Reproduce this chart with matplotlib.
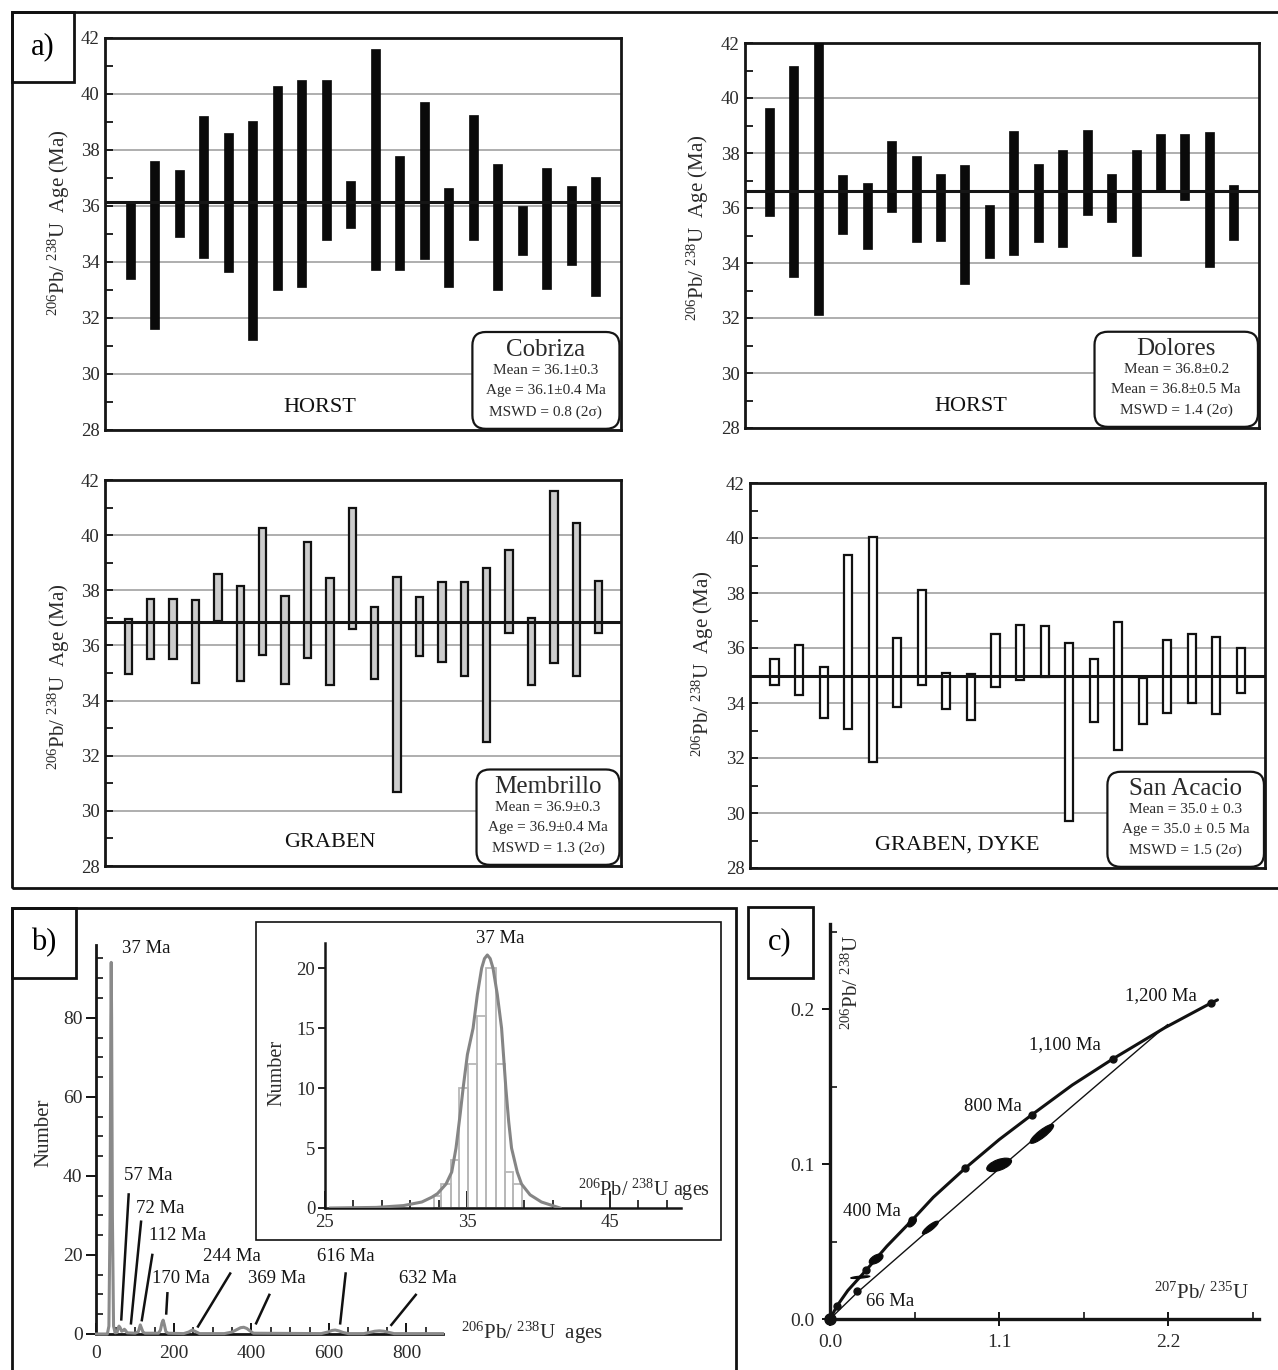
import numpy as np
import matplotlib
matplotlib.use("Agg")
import matplotlib.pyplot as plt
from matplotlib.patches import Rectangle, FancyBboxPatch, Ellipse
from matplotlib.transforms import Affine2D
from matplotlib.ticker import FixedLocator, MultipleLocator

# ---------------------------------------------------------------- data
# a) 206Pb/238U ages (Ma): bottom and top of each error bar
cob_low = [33.4, 31.6, 34.9, 34.15, 33.65, 31.2, 33.0, 33.1, 34.8, 35.2,
           33.7, 33.7, 34.1, 33.1, 34.8, 33.0, 34.25, 33.05, 33.9, 32.8]
cob_high = [36.1, 37.6, 37.3, 39.2, 38.6, 39.05, 40.3, 40.5, 40.5, 36.9,
            41.6, 37.8, 39.7, 36.65, 39.25, 37.5, 36.0, 37.35, 36.7, 37.05]
cob_mean = 36.15

dol_low = [35.7, 33.5, 32.1, 35.05, 34.5, 35.85, 34.75, 34.8, 33.25, 34.2,
           34.3, 34.75, 34.6, 35.75, 35.5, 34.25, 36.65, 36.3, 33.85, 34.85]
dol_high = [39.65, 41.15, 42.05, 37.2, 36.9, 38.45, 37.9, 37.25, 37.55, 36.1,
            38.8, 37.6, 38.1, 38.85, 37.25, 38.1, 38.7, 38.7, 38.75, 36.85]
dol_mean = 36.62

mem_low = [34.95, 35.5, 35.5, 34.65, 36.9, 34.7, 35.65, 34.6, 35.55, 34.55, 36.6,
           34.8, 30.7, 35.6, 35.4, 34.9, 32.5, 36.45, 34.55, 35.35, 34.9, 36.45]
mem_high = [36.95, 37.7, 37.7, 37.65, 38.6, 38.15, 40.25, 37.8, 39.75, 38.45, 41.0,
            37.4, 38.5, 37.75, 38.3, 38.3, 38.8, 39.45, 37.0, 41.6, 40.45, 38.35]
mem_mean = 36.84

san_low = [34.65, 34.3, 33.45, 33.05, 31.85, 33.85, 34.65, 33.8, 33.4, 34.6,
           34.85, 34.95, 29.7, 33.3, 32.3, 33.25, 33.65, 34.0, 33.6, 34.35]
san_high = [35.6, 36.1, 35.3, 39.4, 40.05, 36.35, 38.1, 35.1, 35.05, 36.5,
            36.85, 36.8, 36.2, 35.6, 36.95, 34.9, 36.3, 36.5, 36.4, 36.0]
san_mean = 35.0

cob_text = ["Cobriza", "Mean = 36.1\u00b10.3", "Age = 36.1\u00b10.4 Ma", "MSWD = 0.8 (2\u03c3)"]
dol_text = ["Dolores", "Mean = 36.8\u00b10.2", "Mean = 36.8\u00b10.5 Ma", "MSWD = 1.4 (2\u03c3)"]
mem_text = ["Membrillo", "Mean = 36.9\u00b10.3", "Age = 36.9\u00b10.4 Ma", "MSWD = 1.3 (2\u03c3)"]
san_text = ["San Acacio", "Mean = 35.0 \u00b1 0.3", "Age = 35.0 \u00b1 0.5 Ma", "MSWD = 1.5 (2\u03c3)"]

# b) probability curve of all ages
b_age = [0, 28, 32, 35, 37, 38, 39, 41, 44, 48,
         53, 56, 58, 61, 65, 69, 72, 75, 79, 100,
         108, 111, 113, 116, 120, 125, 160, 165, 169, 172,
         175, 179, 185, 225, 238, 247, 256, 266, 330, 350,
         362, 372, 380, 388, 396, 405, 580, 597, 608, 616,
         625, 636, 650, 690, 705, 718, 730, 742, 755, 768, 893]
b_num = [0, 0, 2, 30, 80, 94, 80, 30, 2, 0.3,
         0.4, 1.5, 2.0, 1.6, 0.7, 0.9, 1.2, 0.9, 0.3, 0.2,
         0.6, 1.6, 2.3, 1.5, 0.5, 0.2, 0.2, 1.0, 2.8, 3.5,
         2.4, 0.6, 0.2, 0.1, 0.5, 1.0, 0.6, 0.1, 0.1, 0.5,
         1.1, 1.6, 1.7, 1.4, 0.8, 0.2, 0.1, 0.5, 0.9, 1.0,
         0.8, 0.4, 0.1, 0.1, 0.4, 0.7, 0.8, 0.7, 0.4, 0.1, 0.1]
b_labels = ["37 Ma", "57 Ma", "72 Ma", "112 Ma", "170 Ma", "244 Ma", "369 Ma", "616 Ma", "632 Ma"]
b_lab_x = [67, 71, 103, 135, 144, 274, 392, 570, 780]
b_lab_y = [97.6, 40.0, 31.8, 24.8, 14.1, 19.6, 14.1, 19.6, 14.1]
b_line_x0 = [None, 83, 115, 144, 183, 345, 446, 643, 824]
b_line_y0 = [None, 35.3, 28.4, 20.0, 10.3, 15.3, 9.9, 15.3, 9.9]
b_line_x1 = [None, 64, 89, 117, 180, 262, 412, 629, 761]
b_line_y1 = [None, 3.7, 2.7, 3.5, 5.2, 1.9, 2.7, 2.7, 2.3]

# b) inset: histogram and curve around 37 Ma
in_edges = [32.64, 33.18, 33.82, 34.40, 35.05, 35.69, 36.33, 36.98, 37.62, 38.21, 38.85]
in_counts = [1, 2, 4, 10, 12, 16, 20, 12, 3, 2]
in_age = [25.4, 28.6, 30.5, 31.8, 32.5, 32.9, 33.5, 33.9, 34.2, 34.5, 34.7, 35.0, 35.4,
          35.7, 36.0, 36.2, 36.4, 36.6, 36.8, 37.1, 37.4, 37.7, 37.9, 38.1, 38.5, 38.8,
          39.4, 40.2, 41.5]
in_num = [0, 0.05, 0.2, 0.5, 0.9, 1.2, 2.0, 3.0, 5.0, 7.9, 10, 12.8, 15,
          17.8, 20, 20.8, 21.1, 20.8, 20, 17.8, 15, 10, 7.2, 5, 3, 2,
          1.1, 0.5, 0]

# c) concordia
conc_x = [0, 0.046, 0.116, 0.236, 0.37, 0.533, 0.672, 0.88, 1.1, 1.315, 1.575, 1.841, 2.177, 2.478, 2.52]
conc_y = [0, 0.0085, 0.0184, 0.0316, 0.047, 0.0637, 0.0786, 0.0974, 0.1158, 0.132, 0.151, 0.168, 0.188, 0.204, 0.206]
chord_x = [0, 0.176, 1.1, 2.195]
chord_y = [0, 0.017, 0.097, 0.190]
dot_x = [0, 0.046, 0.176, 0.236, 0.533, 0.88, 1.315, 1.841, 2.478]
dot_y = [0, 0.0085, 0.018, 0.0316, 0.0637, 0.0974, 0.132, 0.168, 0.204]
ell_x = [0.197, 0.30, 0.533, 0.653, 1.10, 1.378]
ell_y = [0.0270, 0.0387, 0.0625, 0.0590, 0.0995, 0.1195]
ell_w = [0.125, 0.10, 0.075, 0.13, 0.17, 0.19]
ell_h = [0.014, 0.05, 0.04, 0.035, 0.07, 0.05]
ell_ang = [5, 30, 50, 38, 20, 38]
c_labels = ["1,200 Ma", "1,100 Ma", "800 Ma", "400 Ma", "66 Ma"]
c_lab_x = [2.15, 1.53, 1.06, 0.275, 0.39]
c_lab_y = [0.209, 0.177, 0.137, 0.0694, 0.0113]

# ---------------------------------------------------------------- style
plt.rcParams["font.family"] = ["Liberation Serif", "DejaVu Serif"]
plt.rcParams["mathtext.fontset"] = "custom"
plt.rcParams["mathtext.rm"] = "Liberation Serif"
plt.rcParams["mathtext.it"] = "Liberation Serif:italic"
plt.rcParams["mathtext.bf"] = "Liberation Serif:bold"

W, H = 1278, 1370
fig = plt.figure(figsize=(W / 100, H / 100), dpi=100)
TXT = "#2a2a2a"


def fbox(l, t, r, b):
    return [l / W, 1 - b / H, (r - l) / W, (b - t) / H]


def frame(l, t, r, b, lw=2.0):
    fig.add_artist(Rectangle((l / W, 1 - b / H), (r - l) / W, (b - t) / H,
                             transform=fig.transFigure, fill=False, lw=lw,
                             ec="#111111", clip_on=False))


# frames
frame(12, 12, 1295, 888)
frame(12, 12, 74, 82)
frame(12, 908, 736, 1385)
frame(12, 908, 76, 978)
frame(748, 907, 813, 978)
frame(256, 922, 721, 1240, lw=1.2)
fig.text(43 / W, 1 - 47 / H, "a)", fontsize=22, ha="center", va="center")
fig.text(44 / W, 1 - 943 / H, "b)", fontsize=22, ha="center", va="center")
fig.text(780 / W, 1 - 942 / H, "c)", fontsize=22, ha="center", va="center")

YLAB = r"$^{206}$Pb/ $^{238}$U  Age (Ma)"


def age_panel(rect, low, high, mean, xlim, width, fc, ec, lw, texts, boxx,
              place, place_xy, lab_xy):
    ax = fig.add_axes(rect)
    low = np.array(low)
    high = np.array(high)
    x = np.arange(len(low))
    ax.bar(x, high - low, bottom=low, width=width, color=fc, edgecolor=ec,
           linewidth=lw, zorder=3)
    ax.axhline(mean, color="#151515", lw=2.2, zorder=4)
    ax.set_xlim(*xlim)
    ax.set_ylim(28, 42)
    ax.set_yticks(np.arange(28, 43, 2))
    ax.yaxis.set_minor_locator(FixedLocator(np.arange(29, 42, 2)))
    ax.set_xticks([])
    ax.tick_params(axis="y", which="major", direction="in", length=6, width=1.2,
                   labelsize=13.5, labelcolor=TXT, pad=4)
    ax.tick_params(axis="y", which="minor", direction="in", length=6, width=1.2)
    ax.grid(axis="y", which="major", color="#a8a8a8", lw=1.3, zorder=1)
    ax.set_axisbelow(True)
    for s in ax.spines.values():
        s.set_linewidth(2.0)
        s.set_color("#151515")
    ax.set_ylabel(YLAB, fontsize=15, color=TXT)
    ax.yaxis.set_label_coords(*lab_xy)
    # info box
    x0, x1 = boxx
    bb = FancyBboxPatch((x0, 0.003), x1 - x0, 0.247,
                        boxstyle="round,pad=0,rounding_size=0.026",
                        mutation_aspect=1.32, transform=ax.transAxes,
                        fc="white", ec="#151515", lw=1.6, zorder=6, clip_on=False)
    ax.add_patch(bb)
    cx = (x0 + x1) / 2
    ax.text(cx, 0.205, texts[0], transform=ax.transAxes, ha="center", va="center",
            fontsize=18, color=TXT, zorder=7)
    for t, yy in zip(texts[1:], [0.152, 0.100, 0.045]):
        ax.text(cx, yy, t, transform=ax.transAxes, ha="center", va="center",
                fontsize=11, color=TXT, zorder=7)
    ax.text(place_xy[0], place_xy[1], place, transform=ax.transAxes, ha="center",
            va="center", fontsize=16, color="#111111", zorder=7)
    return ax


age_panel(fbox(105, 38, 621, 430), cob_low, cob_high, cob_mean, (-1.03, 20.03),
          0.37, "#0a0a0a", "#0a0a0a", 0.5, cob_text, (0.712, 0.997),
          "HORST", (0.417, 0.058), (-0.064, 0.53))
age_panel(fbox(745, 43, 1259, 428), dol_low, dol_high, dol_mean, (-1.0, 20.03),
          0.37, "#0a0a0a", "#0a0a0a", 0.5, dol_text, (0.68, 0.998),
          "HORST", (0.44, 0.056), (-0.066, 0.52))
age_panel(fbox(105, 480, 621, 866), mem_low, mem_high, mem_mean, (-1.04, 22.0),
          0.33, "#cccccc", "#111111", 1.6, mem_text, (0.72, 0.997),
          "GRABEN", (0.435, 0.06), (-0.064, 0.49))
age_panel(fbox(750, 483, 1265, 868), san_low, san_high, san_mean, (-1.0, 19.98),
          0.33, "white", "#111111", 1.6, san_text, (0.694, 0.998),
          "GRABEN, DYKE", (0.402, 0.06), (-0.066, 0.53))

# ---------------------------------------------------------------- b) main
axb = fig.add_axes(fbox(96.5, 945, 442.5, 1334))
axb.plot(b_age, b_num, color="#8a8a8a", lw=2.2, zorder=3, clip_on=False)
axb.set_xlim(0, 893)
axb.set_ylim(0, 98.4)
for s in ["top", "right"]:
    axb.spines[s].set_visible(False)
for s in ["left", "bottom"]:
    axb.spines[s].set_linewidth(2.0)
    axb.spines[s].set_color("#151515")
axb.set_xticks([0, 200, 400, 600, 800])
axb.xaxis.set_minor_locator(MultipleLocator(50))
axb.set_yticks([0, 20, 40, 60, 80])
axb.yaxis.set_minor_locator(MultipleLocator(5))
axb.tick_params(axis="x", which="major", direction="in", length=8, width=1.3,
                labelsize=14, labelcolor=TXT, pad=8)
axb.tick_params(axis="x", which="minor", direction="in", length=5, width=1.1)
axb.tick_params(axis="y", which="major", direction="out", length=7, width=1.3,
                labelsize=14, labelcolor=TXT, pad=3)
axb.tick_params(axis="y", which="minor", direction="in", length=5, width=1.1)
axb.set_ylabel("Number", fontsize=15, color=TXT)
axb.yaxis.set_label_coords(-0.126, 0.517)
for i, lab in enumerate(b_labels):
    axb.text(b_lab_x[i], b_lab_y[i], lab, ha="left", va="center", fontsize=13.5,
             color="#151515", clip_on=False)
    if b_line_x0[i] is not None:
        axb.plot([b_line_x0[i], b_line_x1[i]], [b_line_y0[i], b_line_y1[i]],
                 color="#111111", lw=1.8, zorder=4, clip_on=False)
axb.text(941, -1.3, r"$^{206}$Pb/ $^{238}$U  ages", ha="left", va="baseline",
         fontsize=15, color=TXT, clip_on=False)

# ---------------------------------------------------------------- b) inset
axi = fig.add_axes(fbox(325, 943, 681, 1208))
axi.bar(in_edges[:-1], in_counts, width=np.diff(in_edges), align="edge",
        fill=False, edgecolor="#b8b8b8", lw=1.3, zorder=2)
axi.plot(in_age, in_num, color="#858585", lw=2.2, zorder=3)
axi.set_xlim(25, 50)
axi.set_ylim(0, 22.1)
for s in ["top", "right"]:
    axi.spines[s].set_visible(False)
for s in ["left", "bottom"]:
    axi.spines[s].set_linewidth(1.8)
    axi.spines[s].set_color("#151515")
axi.set_xticks([25, 35, 45])
axi.xaxis.set_minor_locator(FixedLocator(np.arange(27, 50, 2)))
axi.set_yticks([0, 5, 10, 15, 20])
axi.tick_params(axis="x", which="major", direction="in", length=12, width=1.2,
                labelsize=13.5, labelcolor=TXT, pad=4)
axi.tick_params(axis="x", which="minor", direction="in", length=6, width=1.1)
axi.tick_params(axis="y", which="major", direction="out", length=5, width=1.2,
                labelsize=13.5, labelcolor=TXT, pad=2)
axi.set_ylabel("Number", fontsize=14.5, color=TXT)
axi.yaxis.set_label_coords(-0.107, 0.51)
axi.text(37.3, 22.5, "37 Ma", ha="center", va="center", fontsize=13.5,
         color="#151515", clip_on=False)
axi.text(42.76, 1.0, r"$^{206}$Pb/ $^{238}$U ages", ha="left", va="baseline",
         fontsize=14.5, color=TXT)

# ---------------------------------------------------------------- c) concordia
axc = fig.add_axes(fbox(830, 924, 1259, 1319))
axc.plot(chord_x, chord_y, color="#111111", lw=1.0, zorder=3)
axc.plot(conc_x, conc_y, color="#111111", lw=2.2, zorder=4,
         solid_capstyle="round", solid_joinstyle="round")
axc.plot(dot_x, dot_y, "o", color="#111111", ms=5, zorder=5, clip_on=False)
axc.plot(dot_x[:1], dot_y[:1], "o", color="#111111", ms=8, zorder=5, clip_on=False)
k = 10.1  # makes (x, y*k) roughly isotropic on screen
etr = Affine2D().scale(1, 1 / k) + axc.transData
for cx, cy, w, h, a in zip(ell_x, ell_y, ell_w, ell_h, ell_ang):
    axc.add_patch(Ellipse((cx, cy * k), w, h, angle=a, transform=etr,
                          fc="#0a0a0a", ec="#0a0a0a", lw=0.8, zorder=6))
axc.set_xlim(0, 2.79)
axc.set_ylim(0, 0.255)
for s in ["top", "right"]:
    axc.spines[s].set_visible(False)
for s in ["left", "bottom"]:
    axc.spines[s].set_linewidth(2.4)
    axc.spines[s].set_color("#151515")
axc.set_xticks([0, 1.1, 2.2])
axc.set_xticklabels(["0.0", "1.1", "2.2"])
axc.xaxis.set_minor_locator(FixedLocator([0.55, 1.65, 2.75]))
axc.set_yticks([0, 0.1, 0.2])
axc.set_yticklabels(["0.0", "0.1", "0.2"])
axc.yaxis.set_minor_locator(FixedLocator([0.05, 0.15, 0.25]))
axc.tick_params(axis="x", which="major", direction="inout", length=10, width=1.3,
                labelsize=14, labelcolor=TXT, pad=6)
axc.tick_params(axis="x", which="minor", direction="in", length=5, width=1.1)
axc.tick_params(axis="y", which="major", direction="out", length=6, width=1.3,
                labelsize=14, labelcolor=TXT, pad=5)
axc.tick_params(axis="y", which="minor", direction="in", length=5, width=1.1)
for t, xx, yy in zip(c_labels, c_lab_x, c_lab_y):
    axc.text(xx, yy, t, ha="center", va="center", fontsize=13.5, color="#151515")
axc.text(0.051, 0.853, r"$^{206}$Pb/ $^{238}$U", transform=axc.transAxes,
         rotation=90, ha="center", va="center", fontsize=15, color=TXT)
axc.text(0.865, 0.066, r"$^{207}$Pb/ $^{235}$U", transform=axc.transAxes,
         ha="center", va="center", fontsize=15, color=TXT)

fig.savefig("out.png", dpi=100)
